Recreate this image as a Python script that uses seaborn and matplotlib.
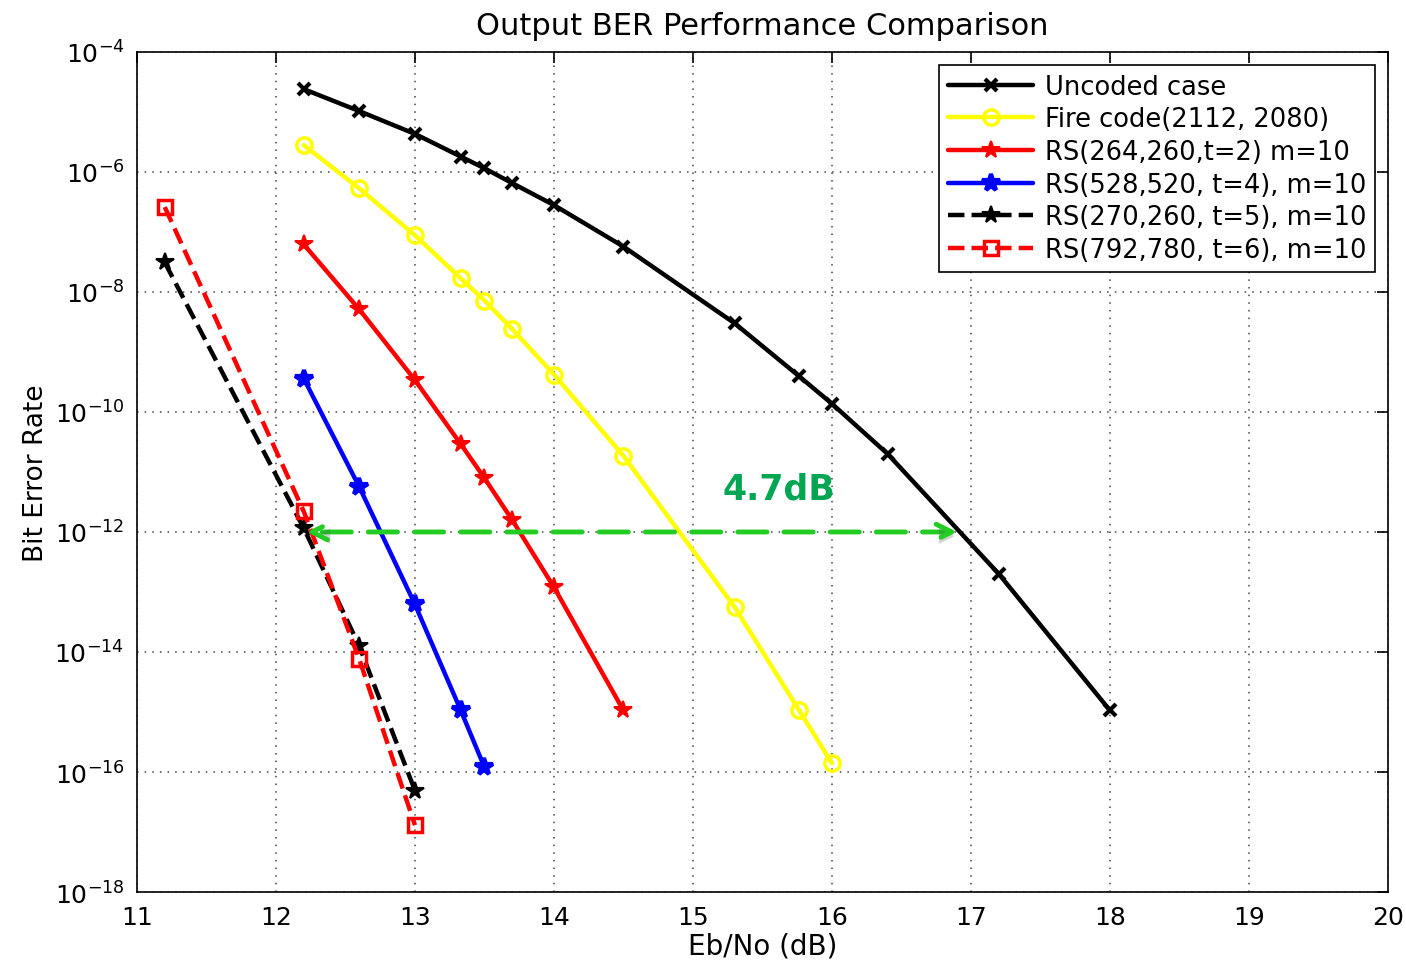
import matplotlib
matplotlib.use("Agg")
import matplotlib.pyplot as plt
import matplotlib.patheffects as pe
import seaborn as sns
import pandas as pd

# Eb/No points (dB) and bit error rates
snr_uncoded = [12.2, 12.6, 13.0, 13.33, 13.5, 13.7, 14.0, 14.5, 15.3, 15.76, 16.0, 16.4, 17.2, 18.0]
ber_uncoded = [2.4e-5, 1.03e-5, 4.3e-6, 1.8e-6, 1.15e-6, 6.5e-7, 2.8e-7, 5.7e-8, 3.0e-9,
               4.0e-10, 1.37e-10, 2.0e-11, 2.0e-13, 1.06e-15]

snr_fire = [12.2, 12.6, 13.0, 13.33, 13.5, 13.7, 14.0, 14.5, 15.3, 15.76, 16.0]
ber_fire = [2.8e-6, 5.3e-7, 8.8e-8, 1.68e-8, 7.2e-9, 2.4e-9, 4.2e-10, 1.85e-11, 5.6e-14,
            1.1e-15, 1.4e-16]

snr_rs2 = [12.2, 12.6, 13.0, 13.33, 13.5, 13.7, 14.0, 14.5]
ber_rs2 = [6.2e-8, 5.1e-9, 3.4e-10, 2.9e-11, 7.9e-12, 1.58e-12, 1.2e-13, 1.06e-15]

snr_rs4 = [12.2, 12.6, 13.0, 13.33, 13.5]
ber_rs4 = [3.6e-10, 5.6e-12, 6.2e-14, 1.06e-15, 1.2e-16]

snr_rs5 = [11.2, 12.2, 12.6, 13.0]
ber_rs5 = [3.1e-8, 1.16e-12, 1.24e-14, 4.9e-17]

snr_rs6 = [11.2, 12.2, 12.6, 13.0]
ber_rs6 = [2.6e-7, 2.2e-12, 7.5e-15, 1.3e-17]

series = [
    ("Uncoded case", snr_uncoded, ber_uncoded, "black", "-", "x", dict(ms=9, mew=3)),
    ("Fire code(2112, 2080)", snr_fire, ber_fire, "#ffff00", "-", "o", dict(ms=11, mew=2.5, mfc="none")),
    ("RS(264,260,t=2) m=10", snr_rs2, ber_rs2, "red", "-", "*", dict(ms=13, mew=1.5)),
    ("RS(528,520, t=4), m=10", snr_rs4, ber_rs4, "blue", "-", "*", dict(ms=13, mew=3)),
    ("RS(270,260, t=5), m=10", snr_rs5, ber_rs5, "black", "--", "*", dict(ms=13, mew=1.5)),
    ("RS(792,780, t=6), m=10", snr_rs6, ber_rs6, "red", "--", "s", dict(ms=10, mew=2.5, mfc="none")),
]

sns.set_style("white")
plt.rcParams["font.family"] = ["DejaVu Sans"]
plt.rcParams["mathtext.fontset"] = "dejavusans"
plt.rcParams["text.color"] = "black"
plt.rcParams["axes.labelcolor"] = "black"

fig = plt.figure(figsize=(14.06, 9.62), dpi=100)
ax = fig.add_axes([0.0974, 0.0717, 0.8898, 0.8733])

for label, x, y, color, ls, marker, mk in series:
    df = pd.DataFrame({"snr": x, "ber": y})
    sns.lineplot(data=df, x="snr", y="ber", ax=ax, color=color, linestyle=ls, linewidth=3.2,
                 marker=marker, mec=color, label=label, **mk)

ax.set_yscale("log")
ax.set_xlim(11, 20)
ax.set_ylim(1e-18, 1e-4)
ax.set_xticks(range(11, 21))
ax.set_yticks([10.0 ** e for e in range(-18, -3, 2)])
ax.set_yticklabels([f"$10^{{{e}}}$" for e in range(-18, -3, 2)])
ax.minorticks_off()
ax.tick_params(axis="both", direction="in", length=8, width=1.2, labelsize=18,
               top=True, right=True, pad=9, colors="black")
ax.grid(True, linestyle=(0, (1, 4)), color="#444444", linewidth=1.1)
for s in ax.spines.values():
    s.set_color("black")
    s.set_linewidth(1.2)

ax.set_title("Output BER Performance Comparison", fontsize=22, pad=13, color="black")
ax.set_xlabel("Eb/No (dB)", fontsize=20, labelpad=2)
ax.set_ylabel("Bit Error Rate", fontsize=19, labelpad=4)

# 4.7 dB gap annotation
ax.annotate("", xy=(12.2, 1e-12), xytext=(16.92, 1e-12),
            arrowprops=dict(arrowstyle="<->", color="#22cc22", lw=3.5, linestyle=(0, (6, 3.5)),
                            mutation_scale=28,
                            path_effects=[pe.SimplePatchShadow(offset=(2, -3), alpha=0.25),
                                          pe.Normal()]))
ax.text(15.62, 10 ** -11.27, "4.7dB", color="#00a651", fontsize=25, fontweight="bold",
        ha="center", va="center")

leg = ax.legend(loc="upper right", fontsize=18.5, frameon=True, fancybox=False,
                handlelength=3.3, borderpad=0.35, labelspacing=0.26, handletextpad=0.45,
                borderaxespad=0.5)
leg.get_frame().set_edgecolor("black")
leg.get_frame().set_linewidth(1.2)
leg.get_frame().set_alpha(1)
for t in leg.get_texts():
    t.set_color("black")

fig.savefig("out.png", dpi=100)
